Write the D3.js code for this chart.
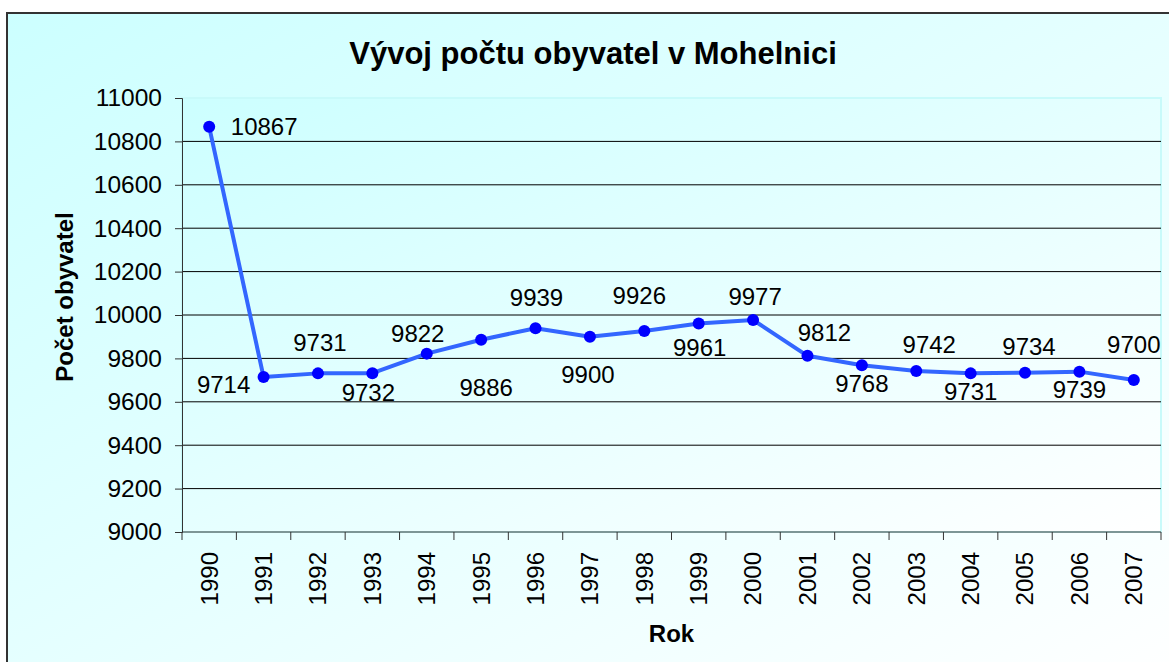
<!DOCTYPE html>
<html>
<head>
<meta charset="utf-8">
<script src="https://cdn.jsdelivr.net/npm/d3@7"></script>
<style>
  body { margin: 0; background: #fff; }
  svg text { font-family: "Liberation Sans", Arial, sans-serif; fill: #000; }
</style>
</head>
<body>
<div id="chart"></div>
<script>
// data
const years = ['1990', '1991', '1992', '1993', '1994', '1995', '1996', '1997', '1998',
  '1999', '2000', '2001', '2002', '2003', '2004', '2005', '2006', '2007'];
const population = [10867, 9714, 9731, 9732, 9822, 9886, 9939, 9900, 9926,
  9961, 9977, 9812, 9768, 9742, 9731, 9734, 9739, 9700];
const yTicks = [9000, 9200, 9400, 9600, 9800, 10000, 10200, 10400, 10600, 10800, 11000];

// where each value label sits relative to its point (px)
const labelOffsets = [[55, 0], [-40, 8], [2, -31], [-4, 19], [-9, -20], [5, 48], [1, -31],
  [-2, 38], [-5, -35], [1, 24], [2, -23], [17, -23], [0, 18], [13, -26], [0, 18],
  [4, -26], [0, 18], [0, -36]];

const W = 1169, H = 662;
const plot = { left: 182, right: 1161, top: 98, bottom: 532 };

const svg = d3.select('#chart').append('svg')
  .attr('width', W)
  .attr('height', H);

const defs = svg.append('defs');
const grad = defs.append('linearGradient')
  .attr('id', 'bg')
  .attr('x1', '0%').attr('y1', '0%')
  .attr('x2', '100%').attr('y2', '100%');
grad.append('stop').attr('offset', '0%').attr('stop-color', '#ccffff');
grad.append('stop').attr('offset', '100%').attr('stop-color', '#ffffff');

// chart area
svg.append('rect')
  .attr('x', 7).attr('y', 13)
  .attr('width', W + 10).attr('height', H + 10)
  .attr('fill', 'url(#bg)')
  .attr('stroke', '#333')
  .attr('stroke-width', 2);

// plot area
svg.append('rect')
  .attr('x', plot.left).attr('y', plot.top)
  .attr('width', plot.right - plot.left)
  .attr('height', plot.bottom - plot.top)
  .attr('fill', 'url(#bg)')
  .attr('stroke', '#c8fafa')
  .attr('stroke-width', 2);

const x = d3.scaleBand()
  .domain(years)
  .range([plot.left, plot.right]);

const y = d3.scaleLinear()
  .domain([9000, 11000])
  .range([plot.bottom, plot.top]);

// gridlines
svg.append('g')
  .selectAll('line')
  .data(yTicks.filter(t => t > 9000 && t < 11000))
  .join('line')
  .attr('x1', plot.left).attr('x2', plot.right)
  .attr('y1', d => y(d)).attr('y2', d => y(d))
  .attr('stroke', '#000')
  .attr('stroke-width', 1);

// y axis
const yAxis = svg.append('g')
  .attr('transform', `translate(${plot.left},0)`)
  .call(d3.axisLeft(y).tickValues(yTicks).tickSize(7).tickPadding(13).tickFormat(d3.format('d')));
yAxis.select('.domain').attr('stroke', '#333').attr('stroke-width', 1);
yAxis.selectAll('.tick line').attr('stroke', '#333');
yAxis.selectAll('.tick text')
  .style('font-size', '24.5px')
  .attr('fill', '#000');

// x axis: ticks sit on category boundaries
const xAxis = svg.append('g')
  .attr('transform', `translate(0,${plot.bottom})`);
xAxis.append('line')
  .attr('x1', plot.left).attr('x2', plot.right)
  .attr('stroke', '#333');
xAxis.selectAll('line.tk')
  .data(years.concat(['end']))
  .join('line')
  .attr('class', 'tk')
  .attr('x1', (d, i) => i < years.length ? x(d) : plot.right)
  .attr('x2', (d, i) => i < years.length ? x(d) : plot.right)
  .attr('y1', 0).attr('y2', 8)
  .attr('stroke', '#333');
xAxis.selectAll('text')
  .data(years)
  .join('text')
  .attr('transform', d => `translate(${x(d) + x.bandwidth() / 2},20) rotate(-90)`)
  .attr('text-anchor', 'end')
  .attr('dy', '0.35em')
  .style('font-size', '24px')
  .text(d => d);

// line + markers
const pts = years.map((yr, i) => ({ yr, v: population[i], off: labelOffsets[i] }));
const cx = d => x(d.yr) + x.bandwidth() / 2;

svg.append('path')
  .datum(pts)
  .attr('fill', 'none')
  .attr('stroke', '#3366ff')
  .attr('stroke-width', 4)
  .attr('stroke-linejoin', 'round')
  .attr('d', d3.line().x(cx).y(d => y(d.v)));

svg.append('g')
  .selectAll('circle')
  .data(pts)
  .join('circle')
  .attr('cx', cx)
  .attr('cy', d => y(d.v))
  .attr('r', 6)
  .attr('fill', '#0000ff');

svg.append('g')
  .selectAll('text')
  .data(pts)
  .join('text')
  .attr('x', d => cx(d) + d.off[0])
  .attr('y', d => y(d.v) + d.off[1])
  .attr('dy', '0.35em')
  .attr('text-anchor', 'middle')
  .style('font-size', '24px')
  .text(d => d.v);

// titles
svg.append('text')
  .attr('x', 593).attr('y', 64)
  .attr('text-anchor', 'middle')
  .style('font-size', '31px')
  .style('font-weight', 'bold')
  .text('Vývoj počtu obyvatel v Mohelnici');

svg.append('text')
  .attr('transform', 'translate(73,297) rotate(-90)')
  .attr('text-anchor', 'middle')
  .style('font-size', '24px')
  .style('font-weight', 'bold')
  .text('Počet obyvatel');

svg.append('text')
  .attr('x', (plot.left + plot.right) / 2).attr('y', 642)
  .attr('text-anchor', 'middle')
  .style('font-size', '24px')
  .style('font-weight', 'bold')
  .text('Rok');
</script>
</body>
</html>
